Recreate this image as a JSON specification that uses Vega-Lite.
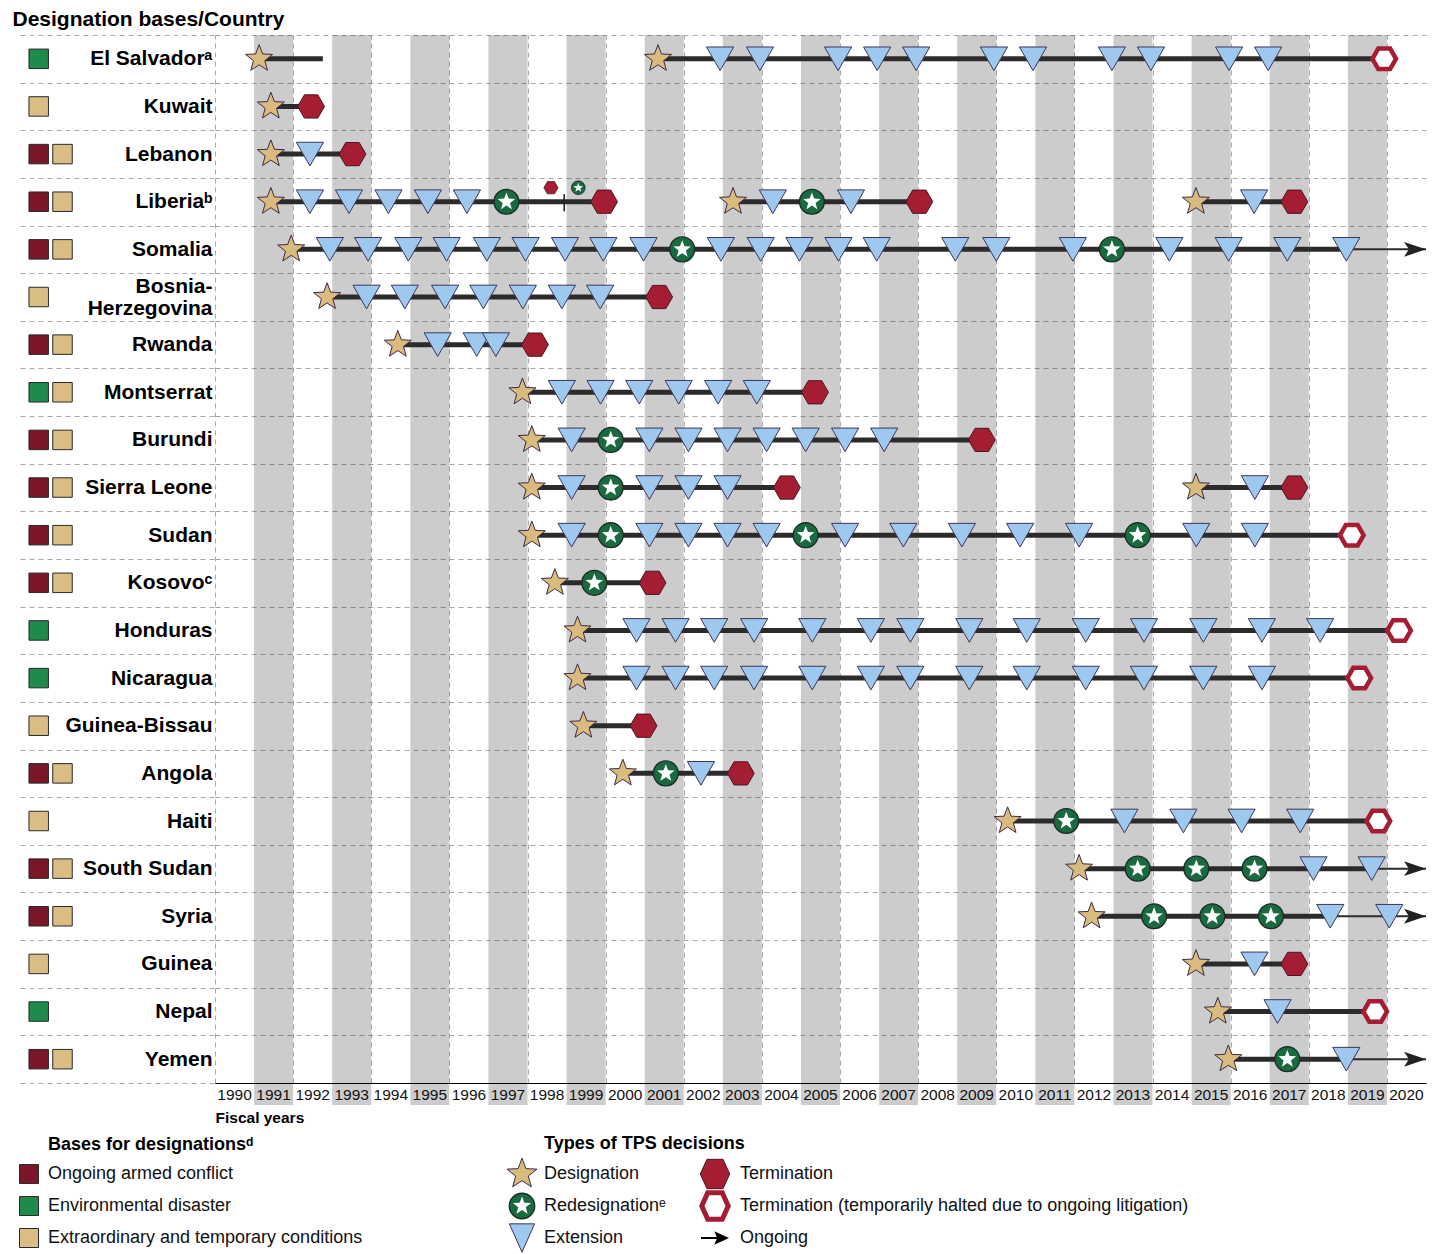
{
  "$schema": "https://vega.github.io/schema/vega-lite/v6.json",
  "padding": {"left": 12, "top": 9, "right": 8, "bottom": 2},
  "background": "white",
  "config": {"view": {"stroke": null}, "font": "Liberation Sans", "title": {"color": "#000"}},
  "title": {"text": "Designation bases/Country", "anchor": "start", "fontSize": 21, "fontWeight": "bold", "dx": -5, "offset": -6},
  "datasets": {
    "bases": [
      {"country": "El Salvador", "basis": "environmental"},
      {"country": "Kuwait", "basis": "extraordinary"},
      {"country": "Lebanon", "basis": "conflict"}, {"country": "Lebanon", "basis": "extraordinary"},
      {"country": "Liberia", "basis": "conflict"}, {"country": "Liberia", "basis": "extraordinary"},
      {"country": "Somalia", "basis": "conflict"}, {"country": "Somalia", "basis": "extraordinary"},
      {"country": "Bosnia-Herzegovina", "basis": "extraordinary"},
      {"country": "Rwanda", "basis": "conflict"}, {"country": "Rwanda", "basis": "extraordinary"},
      {"country": "Montserrat", "basis": "environmental"}, {"country": "Montserrat", "basis": "extraordinary"},
      {"country": "Burundi", "basis": "conflict"}, {"country": "Burundi", "basis": "extraordinary"},
      {"country": "Sierra Leone", "basis": "conflict"}, {"country": "Sierra Leone", "basis": "extraordinary"},
      {"country": "Sudan", "basis": "conflict"}, {"country": "Sudan", "basis": "extraordinary"},
      {"country": "Kosovo", "basis": "conflict"}, {"country": "Kosovo", "basis": "extraordinary"},
      {"country": "Honduras", "basis": "environmental"},
      {"country": "Nicaragua", "basis": "environmental"},
      {"country": "Guinea-Bissau", "basis": "extraordinary"},
      {"country": "Angola", "basis": "conflict"}, {"country": "Angola", "basis": "extraordinary"},
      {"country": "Haiti", "basis": "extraordinary"},
      {"country": "South Sudan", "basis": "conflict"}, {"country": "South Sudan", "basis": "extraordinary"},
      {"country": "Syria", "basis": "conflict"}, {"country": "Syria", "basis": "extraordinary"},
      {"country": "Guinea", "basis": "extraordinary"},
      {"country": "Nepal", "basis": "environmental"},
      {"country": "Yemen", "basis": "conflict"}, {"country": "Yemen", "basis": "extraordinary"}
    ],
    "years": [
      {"year": 1990}, {"year": 1991}, {"year": 1992}, {"year": 1993}, {"year": 1994}, {"year": 1995}, {"year": 1996}, {"year": 1997},
      {"year": 1998}, {"year": 1999}, {"year": 2000}, {"year": 2001}, {"year": 2002}, {"year": 2003}, {"year": 2004}, {"year": 2005},
      {"year": 2006}, {"year": 2007}, {"year": 2008}, {"year": 2009}, {"year": 2010}, {"year": 2011}, {"year": 2012}, {"year": 2013},
      {"year": 2014}, {"year": 2015}, {"year": 2016}, {"year": 2017}, {"year": 2018}, {"year": 2019}, {"year": 2020}
    ],
    "shadedYears": [
      {"year": 1991, "end": 1992}, {"year": 1993, "end": 1994}, {"year": 1995, "end": 1996}, {"year": 1997, "end": 1998},
      {"year": 1999, "end": 2000}, {"year": 2001, "end": 2002}, {"year": 2003, "end": 2004}, {"year": 2005, "end": 2006},
      {"year": 2007, "end": 2008}, {"year": 2009, "end": 2010}, {"year": 2011, "end": 2012}, {"year": 2013, "end": 2014},
      {"year": 2015, "end": 2016}, {"year": 2017, "end": 2018}, {"year": 2019, "end": 2020}
    ],
    "segments": [
      {"country": "El Salvador", "start": 1991.13, "end": 1992.76},
      {"country": "El Salvador", "start": 2001.34, "end": 2019.93},
      {"country": "Kuwait", "start": 1991.43, "end": 1992.46},
      {"country": "Lebanon", "start": 1991.43, "end": 1993.52},
      {"country": "Liberia", "start": 1991.43, "end": 1999.96},
      {"country": "Liberia", "start": 2003.26, "end": 2008.03},
      {"country": "Liberia", "start": 2015.11, "end": 2017.63},
      {"country": "Somalia", "start": 1991.95, "end": 2018.96},
      {"country": "Bosnia-Herzegovina", "start": 1992.87, "end": 2001.37},
      {"country": "Rwanda", "start": 1994.68, "end": 1998.19},
      {"country": "Montserrat", "start": 1997.87, "end": 2005.36},
      {"country": "Burundi", "start": 1998.11, "end": 2009.63},
      {"country": "Sierra Leone", "start": 1998.11, "end": 2004.64},
      {"country": "Sierra Leone", "start": 2015.11, "end": 2017.63},
      {"country": "Sudan", "start": 1998.11, "end": 2019.10},
      {"country": "Kosovo", "start": 1998.70, "end": 2001.20},
      {"country": "Honduras", "start": 1999.28, "end": 2020.31},
      {"country": "Nicaragua", "start": 1999.28, "end": 2019.29},
      {"country": "Guinea-Bissau", "start": 1999.43, "end": 2000.97},
      {"country": "Angola", "start": 2000.44, "end": 2003.46},
      {"country": "Haiti", "start": 2010.29, "end": 2019.78},
      {"country": "South Sudan", "start": 2012.12, "end": 2019.61},
      {"country": "Syria", "start": 2012.44, "end": 2018.55},
      {"country": "Guinea", "start": 2015.11, "end": 2017.63},
      {"country": "Nepal", "start": 2015.67, "end": 2019.70},
      {"country": "Yemen", "start": 2015.94, "end": 2018.96}
    ],
    "ongoing": [
      {"country": "Somalia", "from": 2018.96, "to": 2021},
      {"country": "South Sudan", "from": 2019.61, "to": 2021},
      {"country": "Syria", "from": 2018.55, "to": 2021},
      {"country": "Yemen", "from": 2018.96, "to": 2021}
    ],
    "liberiaNote": [
      {"country": "Liberia", "year": 1998.60, "decision": "Termination"},
      {"country": "Liberia", "year": 1999.30, "decision": "Redesignation"}
    ],
    "liberiaSplit": [{"country": "Liberia", "year": 1998.94}],
    "events": [
      {"country": "El Salvador", "year": 1991.13, "decision": "Designation"},
      {"country": "El Salvador", "year": 2001.34, "decision": "Designation"},
      {"country": "El Salvador", "year": 2002.93, "decision": "Extension"},
      {"country": "El Salvador", "year": 2003.95, "decision": "Extension"},
      {"country": "El Salvador", "year": 2005.95, "decision": "Extension"},
      {"country": "El Salvador", "year": 2006.95, "decision": "Extension"},
      {"country": "El Salvador", "year": 2007.95, "decision": "Extension"},
      {"country": "El Salvador", "year": 2009.94, "decision": "Extension"},
      {"country": "El Salvador", "year": 2010.94, "decision": "Extension"},
      {"country": "El Salvador", "year": 2012.96, "decision": "Extension"},
      {"country": "El Salvador", "year": 2013.96, "decision": "Extension"},
      {"country": "El Salvador", "year": 2015.96, "decision": "Extension"},
      {"country": "El Salvador", "year": 2016.96, "decision": "Extension"},
      {"country": "El Salvador", "year": 2019.93, "decision": "Halted"},
      {"country": "Kuwait", "year": 1991.43, "decision": "Designation"},
      {"country": "Kuwait", "year": 1992.46, "decision": "Termination"},
      {"country": "Lebanon", "year": 1991.43, "decision": "Designation"},
      {"country": "Lebanon", "year": 1992.43, "decision": "Extension"},
      {"country": "Lebanon", "year": 1993.52, "decision": "Termination"},
      {"country": "Liberia", "year": 1991.43, "decision": "Designation"},
      {"country": "Liberia", "year": 1992.43, "decision": "Extension"},
      {"country": "Liberia", "year": 1993.43, "decision": "Extension"},
      {"country": "Liberia", "year": 1994.44, "decision": "Extension"},
      {"country": "Liberia", "year": 1995.45, "decision": "Extension"},
      {"country": "Liberia", "year": 1996.45, "decision": "Extension"},
      {"country": "Liberia", "year": 1997.46, "decision": "Redesignation"},
      {"country": "Liberia", "year": 1999.96, "decision": "Termination"},
      {"country": "Liberia", "year": 2003.26, "decision": "Designation"},
      {"country": "Liberia", "year": 2004.28, "decision": "Extension"},
      {"country": "Liberia", "year": 2005.28, "decision": "Redesignation"},
      {"country": "Liberia", "year": 2006.28, "decision": "Extension"},
      {"country": "Liberia", "year": 2008.03, "decision": "Termination"},
      {"country": "Liberia", "year": 2015.11, "decision": "Designation"},
      {"country": "Liberia", "year": 2016.60, "decision": "Extension"},
      {"country": "Liberia", "year": 2017.63, "decision": "Termination"},
      {"country": "Somalia", "year": 1991.95, "decision": "Designation"},
      {"country": "Somalia", "year": 1992.94, "decision": "Extension"},
      {"country": "Somalia", "year": 1993.92, "decision": "Extension"},
      {"country": "Somalia", "year": 1994.95, "decision": "Extension"},
      {"country": "Somalia", "year": 1995.93, "decision": "Extension"},
      {"country": "Somalia", "year": 1996.96, "decision": "Extension"},
      {"country": "Somalia", "year": 1997.95, "decision": "Extension"},
      {"country": "Somalia", "year": 1998.96, "decision": "Extension"},
      {"country": "Somalia", "year": 1999.94, "decision": "Extension"},
      {"country": "Somalia", "year": 2000.97, "decision": "Extension"},
      {"country": "Somalia", "year": 2001.96, "decision": "Redesignation"},
      {"country": "Somalia", "year": 2002.95, "decision": "Extension"},
      {"country": "Somalia", "year": 2003.97, "decision": "Extension"},
      {"country": "Somalia", "year": 2004.96, "decision": "Extension"},
      {"country": "Somalia", "year": 2005.96, "decision": "Extension"},
      {"country": "Somalia", "year": 2006.94, "decision": "Extension"},
      {"country": "Somalia", "year": 2008.95, "decision": "Extension"},
      {"country": "Somalia", "year": 2010.00, "decision": "Extension"},
      {"country": "Somalia", "year": 2011.96, "decision": "Extension"},
      {"country": "Somalia", "year": 2012.96, "decision": "Redesignation"},
      {"country": "Somalia", "year": 2014.43, "decision": "Extension"},
      {"country": "Somalia", "year": 2015.95, "decision": "Extension"},
      {"country": "Somalia", "year": 2017.45, "decision": "Extension"},
      {"country": "Somalia", "year": 2018.96, "decision": "Extension"},
      {"country": "Bosnia-Herzegovina", "year": 1992.87, "decision": "Designation"},
      {"country": "Bosnia-Herzegovina", "year": 1993.88, "decision": "Extension"},
      {"country": "Bosnia-Herzegovina", "year": 1994.86, "decision": "Extension"},
      {"country": "Bosnia-Herzegovina", "year": 1995.89, "decision": "Extension"},
      {"country": "Bosnia-Herzegovina", "year": 1996.87, "decision": "Extension"},
      {"country": "Bosnia-Herzegovina", "year": 1997.88, "decision": "Extension"},
      {"country": "Bosnia-Herzegovina", "year": 1998.88, "decision": "Extension"},
      {"country": "Bosnia-Herzegovina", "year": 1999.86, "decision": "Extension"},
      {"country": "Bosnia-Herzegovina", "year": 2001.37, "decision": "Termination"},
      {"country": "Rwanda", "year": 1994.68, "decision": "Designation"},
      {"country": "Rwanda", "year": 1995.70, "decision": "Extension"},
      {"country": "Rwanda", "year": 1996.70, "decision": "Extension"},
      {"country": "Rwanda", "year": 1997.19, "decision": "Extension"},
      {"country": "Rwanda", "year": 1998.19, "decision": "Termination"},
      {"country": "Montserrat", "year": 1997.87, "decision": "Designation"},
      {"country": "Montserrat", "year": 1998.88, "decision": "Extension"},
      {"country": "Montserrat", "year": 1999.87, "decision": "Extension"},
      {"country": "Montserrat", "year": 2000.86, "decision": "Extension"},
      {"country": "Montserrat", "year": 2001.87, "decision": "Extension"},
      {"country": "Montserrat", "year": 2002.88, "decision": "Extension"},
      {"country": "Montserrat", "year": 2003.87, "decision": "Extension"},
      {"country": "Montserrat", "year": 2005.36, "decision": "Termination"},
      {"country": "Burundi", "year": 1998.11, "decision": "Designation"},
      {"country": "Burundi", "year": 1999.13, "decision": "Extension"},
      {"country": "Burundi", "year": 2000.13, "decision": "Redesignation"},
      {"country": "Burundi", "year": 2001.12, "decision": "Extension"},
      {"country": "Burundi", "year": 2002.12, "decision": "Extension"},
      {"country": "Burundi", "year": 2003.12, "decision": "Extension"},
      {"country": "Burundi", "year": 2004.12, "decision": "Extension"},
      {"country": "Burundi", "year": 2005.12, "decision": "Extension"},
      {"country": "Burundi", "year": 2006.13, "decision": "Extension"},
      {"country": "Burundi", "year": 2007.13, "decision": "Extension"},
      {"country": "Burundi", "year": 2009.63, "decision": "Termination"},
      {"country": "Sierra Leone", "year": 1998.11, "decision": "Designation"},
      {"country": "Sierra Leone", "year": 1999.13, "decision": "Extension"},
      {"country": "Sierra Leone", "year": 2000.13, "decision": "Redesignation"},
      {"country": "Sierra Leone", "year": 2001.12, "decision": "Extension"},
      {"country": "Sierra Leone", "year": 2002.12, "decision": "Extension"},
      {"country": "Sierra Leone", "year": 2003.12, "decision": "Extension"},
      {"country": "Sierra Leone", "year": 2004.64, "decision": "Termination"},
      {"country": "Sierra Leone", "year": 2015.11, "decision": "Designation"},
      {"country": "Sierra Leone", "year": 2016.62, "decision": "Extension"},
      {"country": "Sierra Leone", "year": 2017.63, "decision": "Termination"},
      {"country": "Sudan", "year": 1998.11, "decision": "Designation"},
      {"country": "Sudan", "year": 1999.13, "decision": "Extension"},
      {"country": "Sudan", "year": 2000.13, "decision": "Redesignation"},
      {"country": "Sudan", "year": 2001.12, "decision": "Extension"},
      {"country": "Sudan", "year": 2002.12, "decision": "Extension"},
      {"country": "Sudan", "year": 2003.12, "decision": "Extension"},
      {"country": "Sudan", "year": 2004.12, "decision": "Extension"},
      {"country": "Sudan", "year": 2005.12, "decision": "Redesignation"},
      {"country": "Sudan", "year": 2006.13, "decision": "Extension"},
      {"country": "Sudan", "year": 2007.62, "decision": "Extension"},
      {"country": "Sudan", "year": 2009.12, "decision": "Extension"},
      {"country": "Sudan", "year": 2010.61, "decision": "Extension"},
      {"country": "Sudan", "year": 2012.12, "decision": "Extension"},
      {"country": "Sudan", "year": 2013.62, "decision": "Redesignation"},
      {"country": "Sudan", "year": 2015.12, "decision": "Extension"},
      {"country": "Sudan", "year": 2016.62, "decision": "Extension"},
      {"country": "Sudan", "year": 2019.10, "decision": "Halted"},
      {"country": "Kosovo", "year": 1998.70, "decision": "Designation"},
      {"country": "Kosovo", "year": 1999.71, "decision": "Redesignation"},
      {"country": "Kosovo", "year": 2001.20, "decision": "Termination"},
      {"country": "Honduras", "year": 1999.28, "decision": "Designation"},
      {"country": "Honduras", "year": 2000.79, "decision": "Extension"},
      {"country": "Honduras", "year": 2001.79, "decision": "Extension"},
      {"country": "Honduras", "year": 2002.78, "decision": "Extension"},
      {"country": "Honduras", "year": 2003.80, "decision": "Extension"},
      {"country": "Honduras", "year": 2005.29, "decision": "Extension"},
      {"country": "Honduras", "year": 2006.79, "decision": "Extension"},
      {"country": "Honduras", "year": 2007.80, "decision": "Extension"},
      {"country": "Honduras", "year": 2009.31, "decision": "Extension"},
      {"country": "Honduras", "year": 2010.78, "decision": "Extension"},
      {"country": "Honduras", "year": 2012.29, "decision": "Extension"},
      {"country": "Honduras", "year": 2013.78, "decision": "Extension"},
      {"country": "Honduras", "year": 2015.30, "decision": "Extension"},
      {"country": "Honduras", "year": 2016.80, "decision": "Extension"},
      {"country": "Honduras", "year": 2018.29, "decision": "Extension"},
      {"country": "Honduras", "year": 2020.31, "decision": "Halted"},
      {"country": "Nicaragua", "year": 1999.28, "decision": "Designation"},
      {"country": "Nicaragua", "year": 2000.79, "decision": "Extension"},
      {"country": "Nicaragua", "year": 2001.79, "decision": "Extension"},
      {"country": "Nicaragua", "year": 2002.78, "decision": "Extension"},
      {"country": "Nicaragua", "year": 2003.80, "decision": "Extension"},
      {"country": "Nicaragua", "year": 2005.29, "decision": "Extension"},
      {"country": "Nicaragua", "year": 2006.79, "decision": "Extension"},
      {"country": "Nicaragua", "year": 2007.80, "decision": "Extension"},
      {"country": "Nicaragua", "year": 2009.31, "decision": "Extension"},
      {"country": "Nicaragua", "year": 2010.78, "decision": "Extension"},
      {"country": "Nicaragua", "year": 2012.29, "decision": "Extension"},
      {"country": "Nicaragua", "year": 2013.78, "decision": "Extension"},
      {"country": "Nicaragua", "year": 2015.30, "decision": "Extension"},
      {"country": "Nicaragua", "year": 2016.80, "decision": "Extension"},
      {"country": "Nicaragua", "year": 2019.29, "decision": "Halted"},
      {"country": "Guinea-Bissau", "year": 1999.43, "decision": "Designation"},
      {"country": "Guinea-Bissau", "year": 2000.97, "decision": "Termination"},
      {"country": "Angola", "year": 2000.44, "decision": "Designation"},
      {"country": "Angola", "year": 2001.54, "decision": "Redesignation"},
      {"country": "Angola", "year": 2002.44, "decision": "Extension"},
      {"country": "Angola", "year": 2003.46, "decision": "Termination"},
      {"country": "Haiti", "year": 2010.29, "decision": "Designation"},
      {"country": "Haiti", "year": 2011.79, "decision": "Redesignation"},
      {"country": "Haiti", "year": 2013.28, "decision": "Extension"},
      {"country": "Haiti", "year": 2014.79, "decision": "Extension"},
      {"country": "Haiti", "year": 2016.28, "decision": "Extension"},
      {"country": "Haiti", "year": 2017.78, "decision": "Extension"},
      {"country": "Haiti", "year": 2019.78, "decision": "Halted"},
      {"country": "South Sudan", "year": 2012.12, "decision": "Designation"},
      {"country": "South Sudan", "year": 2013.62, "decision": "Redesignation"},
      {"country": "South Sudan", "year": 2015.12, "decision": "Redesignation"},
      {"country": "South Sudan", "year": 2016.61, "decision": "Redesignation"},
      {"country": "South Sudan", "year": 2018.12, "decision": "Extension"},
      {"country": "South Sudan", "year": 2019.61, "decision": "Extension"},
      {"country": "Syria", "year": 2012.44, "decision": "Designation"},
      {"country": "Syria", "year": 2014.04, "decision": "Redesignation"},
      {"country": "Syria", "year": 2015.53, "decision": "Redesignation"},
      {"country": "Syria", "year": 2017.03, "decision": "Redesignation"},
      {"country": "Syria", "year": 2018.55, "decision": "Extension"},
      {"country": "Syria", "year": 2020.06, "decision": "Extension"},
      {"country": "Guinea", "year": 2015.11, "decision": "Designation"},
      {"country": "Guinea", "year": 2016.61, "decision": "Extension"},
      {"country": "Guinea", "year": 2017.63, "decision": "Termination"},
      {"country": "Nepal", "year": 2015.67, "decision": "Designation"},
      {"country": "Nepal", "year": 2017.20, "decision": "Extension"},
      {"country": "Nepal", "year": 2019.70, "decision": "Halted"},
      {"country": "Yemen", "year": 2015.94, "decision": "Designation"},
      {"country": "Yemen", "year": 2017.45, "decision": "Redesignation"},
      {"country": "Yemen", "year": 2018.96, "decision": "Extension"}
    ],
    "legendBases": [
      {"basis": "conflict", "label": "Ongoing armed conflict"},
      {"basis": "environmental", "label": "Environmental disaster"},
      {"basis": "extraordinary", "label": "Extraordinary and temporary conditions"}
    ],
    "legendTypes": [
      {"group": "grant", "decision": "Designation", "label": "Designation"},
      {"group": "grant", "decision": "Redesignation", "label": "Redesignation\u1d49"},
      {"group": "grant", "decision": "Extension", "label": "Extension"},
      {"group": "end", "decision": "Termination", "label": "Termination"},
      {"group": "end", "decision": "Halted", "label": "Termination (temporarily halted due to ongoing litigation)"},
      {"group": "end", "decision": "Ongoing", "label": "Ongoing"}
    ]
  },
  "spacing": 9,
  "resolve": {"scale": {"x": "independent", "y": "independent"}},
  "vconcat": [
    {
      "hconcat": [
        {
          "width": 195,
          "height": 1048,
          "data": {"name": "bases"},
          "transform": [{"window": [{"op": "row_number", "as": "slot"}], "groupby": ["country"], "sort": [{"field": "basis", "order": "ascending"}]}],
          "mark": {"type": "square", "size": 380, "stroke": "#2a2a2a", "strokeWidth": 1, "opacity": 1},
          "encoding": {
            "y": {"field": "country", "type": "nominal",
              "scale": {"type": "band", "paddingInner": 0, "paddingOuter": 0, "domain": ["El Salvador", "Kuwait", "Lebanon", "Liberia", "Somalia", "Bosnia-Herzegovina", "Rwanda", "Montserrat", "Burundi", "Sierra Leone", "Sudan", "Kosovo", "Honduras", "Nicaragua", "Guinea-Bissau", "Angola", "Haiti", "South Sudan", "Syria", "Guinea", "Nepal", "Yemen"]},
              "axis": {"title": null, "labels": false, "ticks": false, "domain": false, "grid": true, "gridColor": "#a9a9a9", "gridDash": [5, 4], "tickBand": "extent"}},
            "x": {"field": "slot", "type": "quantitative", "scale": {"domain": [0.2143, 8.407], "nice": false, "zero": false}, "axis": null},
            "fill": {"field": "basis", "type": "nominal", "scale": {"domain": ["conflict", "environmental", "extraordinary"], "range": ["#7a1628", "#1e8a4c", "#d9bd84"]}, "legend": null}
          }
        },
        {
          "width": 1211,
          "height": 1048,
          "layer": [
            {
              "data": {"name": "shadedYears"},
              "mark": {"type": "rect", "fill": "#000000", "opacity": 0.2, "y2Offset": 22},
              "encoding": {
                "x": {"field": "year", "type": "quantitative", "scale": {"domain": [1990, 2021], "nice": false, "zero": false},
                  "axis": {"values": [1990, 1991, 1992, 1993, 1994, 1995, 1996, 1997, 1998, 1999, 2000, 2001, 2002, 2003, 2004, 2005, 2006, 2007, 2008, 2009, 2010, 2011, 2012, 2013, 2014, 2015, 2016, 2017, 2018, 2019, 2020, 2021],
                    "labels": false, "ticks": false, "tickSize": 0, "domain": true, "domainColor": "#000", "domainWidth": 1.2,
                    "grid": true, "gridColor": "#a9a9a9", "gridDash": [5, 4], "gridWidth": 1,
                    "title": "Fiscal years", "titleAnchor": "start", "titleAlign": "left", "titleFontSize": 15.5, "titleFontWeight": "bold", "titlePadding": 27, "titleColor": "#000"}},
                "x2": {"field": "end"},
                "y": {"value": 0},
                "y2": {"value": "height"}
              }
            },
            {
              "data": {"name": "years"},
              "mark": {"type": "text", "align": "center", "baseline": "middle", "dx": 19.5, "yOffset": 11.5, "fontSize": 15.5, "color": "#111"},
              "encoding": {
                "x": {"field": "year", "type": "quantitative"},
                "y": {"value": "height"},
                "text": {"field": "year", "type": "quantitative", "format": "d"}
              }
            },
            {
              "data": {"name": "segments"},
              "mark": {"type": "rule", "strokeWidth": 5, "color": "#2b2b2b"},
              "encoding": {
                "x": {"field": "start", "type": "quantitative"},
                "x2": {"field": "end"},
                "y": {"field": "country", "type": "nominal",
                  "scale": {"type": "band", "paddingInner": 0, "paddingOuter": 0, "domain": ["El Salvador", "Kuwait", "Lebanon", "Liberia", "Somalia", "Bosnia-Herzegovina", "Rwanda", "Montserrat", "Burundi", "Sierra Leone", "Sudan", "Kosovo", "Honduras", "Nicaragua", "Guinea-Bissau", "Angola", "Haiti", "South Sudan", "Syria", "Guinea", "Nepal", "Yemen"]},
                  "axis": {"title": null, "domain": false, "ticks": false, "labelFontSize": 21, "labelFontWeight": "bold", "labelColor": "#000", "labelPadding": 3, "labelLineHeight": 22, "labelLimit": 0,
                    "labelOffset": {"condition": {"test": "datum.value == 'Bosnia-Herzegovina'", "value": -11}, "value": 0},
                    "grid": true, "gridColor": "#a9a9a9", "gridDash": [5, 4], "tickBand": "extent",
                    "labelExpr": "datum.value == 'El Salvador' ? 'El Salvador\u1d43' : datum.value == 'Liberia' ? 'Liberia\u1d47' : datum.value == 'Kosovo' ? 'Kosovo\u1d9c' : datum.value == 'Bosnia-Herzegovina' ? ['Bosnia-', 'Herzegovina'] : datum.label"}}
              }
            },
            {
              "data": {"name": "ongoing"},
              "mark": {"type": "rule", "strokeWidth": 2, "color": "#2b2b2b"},
              "encoding": {
                "x": {"field": "from", "type": "quantitative"},
                "x2": {"field": "to"},
                "y": {"field": "country", "type": "nominal"}
              }
            },
            {
              "data": {"name": "ongoing"},
              "mark": {"type": "point", "shape": "M 0 0 L -2 -0.68 L -1.55 0 L -2 0.68 Z", "size": 484, "filled": true, "fill": "#222222", "strokeWidth": 0, "opacity": 1},
              "encoding": {
                "x": {"field": "to", "type": "quantitative"},
                "y": {"field": "country", "type": "nominal"}
              }
            },
            {
              "data": {"name": "liberiaSplit"},
              "mark": {"type": "tick", "size": 17, "thickness": 1.6, "color": "#222222", "yOffset": 1, "opacity": 1},
              "encoding": {"x": {"field": "year", "type": "quantitative"}, "y": {"field": "country", "type": "nominal"}}
            },
            {
              "data": {"name": "events"},
              "transform": [{"filter": "datum.decision == 'Designation'"}],
              "mark": {"type": "point", "shape": "M 0 -1 L 0.2469 -0.3398 L 0.9511 -0.309 L 0.3995 0.1298 L 0.5878 0.809 L 0 0.42 L -0.5878 0.809 L -0.3995 0.1298 L -0.9511 -0.309 L -0.2469 -0.3398 Z", "size": 810, "filled": true, "fill": "#d8bb7d", "stroke": "#3d2a48", "strokeWidth": 1, "opacity": 1},
              "encoding": {"x": {"field": "year", "type": "quantitative"}, "y": {"field": "country", "type": "nominal"}}
            },
            {
              "data": {"name": "events"},
              "transform": [{"filter": "datum.decision == 'Redesignation'"}],
              "mark": {"type": "point", "shape": "circle", "size": 620, "filled": true, "fill": "#1a6a40", "stroke": "#1b2b22", "strokeWidth": 1.3, "opacity": 1},
              "encoding": {"x": {"field": "year", "type": "quantitative"}, "y": {"field": "country", "type": "nominal"}}
            },
            {
              "data": {"name": "events"},
              "transform": [{"filter": "datum.decision == 'Redesignation'"}],
              "mark": {"type": "point", "shape": "M 0 -1 L 0.2469 -0.3398 L 0.9511 -0.309 L 0.3995 0.1298 L 0.5878 0.809 L 0 0.42 L -0.5878 0.809 L -0.3995 0.1298 L -0.9511 -0.309 L -0.2469 -0.3398 Z", "size": 340, "filled": true, "fill": "#ffffff", "strokeWidth": 0, "opacity": 1},
              "encoding": {"x": {"field": "year", "type": "quantitative"}, "y": {"field": "country", "type": "nominal"}}
            },
            {
              "data": {"name": "events"},
              "transform": [{"filter": "datum.decision == 'Extension'"}],
              "mark": {"type": "point", "shape": "M -1 -0.87 L 1 -0.87 L 0 0.87 Z", "size": 740, "filled": true, "fill": "#9fc8ef", "stroke": "#3c3656", "strokeWidth": 1, "opacity": 1},
              "encoding": {"x": {"field": "year", "type": "quantitative"}, "y": {"field": "country", "type": "nominal"}}
            },
            {
              "data": {"name": "events"},
              "transform": [{"filter": "datum.decision == 'Termination'"}],
              "mark": {"type": "point", "shape": "M -1 0 L -0.5 -0.866 L 0.5 -0.866 L 1 0 L 0.5 0.866 L -0.5 0.866 Z", "size": 720, "filled": true, "fill": "#a51d33", "stroke": "#4b1522", "strokeWidth": 1, "opacity": 1},
              "encoding": {"x": {"field": "year", "type": "quantitative"}, "y": {"field": "country", "type": "nominal"}}
            },
            {
              "data": {"name": "events"},
              "transform": [{"filter": "datum.decision == 'Halted'"}],
              "mark": {"type": "point", "shape": "M -1 0 L -0.5 -0.866 L 0.5 -0.866 L 1 0 L 0.5 0.866 L -0.5 0.866 Z", "size": 560, "filled": true, "fill": "#ffffff", "stroke": "#a51d33", "strokeWidth": 4.5, "opacity": 1},
              "encoding": {"x": {"field": "year", "type": "quantitative"}, "y": {"field": "country", "type": "nominal"}}
            },
            {
              "data": {"name": "liberiaNote"},
              "transform": [{"filter": "datum.decision == 'Termination'"}],
              "mark": {"type": "point", "shape": "M -1 0 L -0.5 -0.866 L 0.5 -0.866 L 1 0 L 0.5 0.866 L -0.5 0.866 Z", "size": 200, "filled": true, "fill": "#a51d33", "stroke": "#4b1522", "strokeWidth": 0.8, "opacity": 1, "yOffset": -14},
              "encoding": {"x": {"field": "year", "type": "quantitative"}, "y": {"field": "country", "type": "nominal"}}
            },
            {
              "data": {"name": "liberiaNote"},
              "transform": [{"filter": "datum.decision == 'Redesignation'"}],
              "mark": {"type": "point", "shape": "circle", "size": 190, "filled": true, "fill": "#1a6a40", "stroke": "#1b2b22", "strokeWidth": 0.8, "opacity": 1, "yOffset": -14},
              "encoding": {"x": {"field": "year", "type": "quantitative"}, "y": {"field": "country", "type": "nominal"}}
            },
            {
              "data": {"name": "liberiaNote"},
              "transform": [{"filter": "datum.decision == 'Redesignation'"}],
              "mark": {"type": "point", "shape": "M 0 -1 L 0.2469 -0.3398 L 0.9511 -0.309 L 0.3995 0.1298 L 0.5878 0.809 L 0 0.42 L -0.5878 0.809 L -0.3995 0.1298 L -0.9511 -0.309 L -0.2469 -0.3398 Z", "size": 100, "filled": true, "fill": "#ffffff", "strokeWidth": 0, "opacity": 1, "yOffset": -14},
              "encoding": {"x": {"field": "year", "type": "quantitative"}, "y": {"field": "country", "type": "nominal"}}
            }
          ]
        }
      ],
      "spacing": 0,
      "bounds": "flush",
      "resolve": {"scale": {"x": "independent", "y": "independent"}}
    },
    {
      "hconcat": [
        {
          "width": 18,
          "height": 64,
          "title": {"text": "Bases for designations\u1d48", "anchor": "start", "frame": "group", "fontSize": 18, "fontWeight": "bold", "dx": 28, "offset": 9},
          "data": {"name": "legendBases"},
          "transform": [{"window": [{"op": "row_number", "as": "rank"}]}],
          "encoding": {
            "y": {"field": "rank", "type": "ordinal", "scale": {"type": "point", "domain": [1, 2, 3], "padding": 0}, "axis": null}
          },
          "layer": [
            {
              "mark": {"type": "square", "size": 361, "stroke": "#2a2a2a", "strokeWidth": 1, "opacity": 1},
              "encoding": {"fill": {"field": "basis", "type": "nominal", "scale": {"domain": ["conflict", "environmental", "extraordinary"], "range": ["#7a1628", "#1e8a4c", "#d9bd84"]}, "legend": null}}
            },
            {
              "mark": {"type": "text", "align": "left", "baseline": "middle", "dx": 19, "fontSize": 18, "color": "#111"},
              "encoding": {"text": {"field": "label"}}
            }
          ]
        },
        {
          "width": 193,
          "height": 64,
          "title": {"text": "Types of TPS decisions", "anchor": "start", "frame": "group", "fontSize": 18, "fontWeight": "bold", "dx": 22, "offset": 3},
          "data": {"name": "legendTypes"},
          "transform": [{"window": [{"op": "row_number", "as": "rank"}], "groupby": ["group"]}],
          "encoding": {
            "x": {"field": "group", "type": "nominal", "scale": {"type": "point", "domain": ["grant", "end"], "padding": 0}, "axis": null},
            "y": {"field": "rank", "type": "ordinal", "scale": {"type": "point", "domain": [1, 2, 3], "padding": 0}, "axis": null}
          },
          "layer": [
            {
              "transform": [{"filter": "datum.decision == 'Designation'"}],
              "mark": {"type": "point", "shape": "M 0 -1 L 0.2469 -0.3398 L 0.9511 -0.309 L 0.3995 0.1298 L 0.5878 0.809 L 0 0.42 L -0.5878 0.809 L -0.3995 0.1298 L -0.9511 -0.309 L -0.2469 -0.3398 Z", "size": 1000, "filled": true, "fill": "#d8bb7d", "stroke": "#3d2a48", "strokeWidth": 1, "opacity": 1}
            },
            {
              "transform": [{"filter": "datum.decision == 'Redesignation'"}],
              "mark": {"type": "point", "shape": "circle", "size": 650, "filled": true, "fill": "#1a6a40", "stroke": "#1b2b22", "strokeWidth": 1.3, "opacity": 1}
            },
            {
              "transform": [{"filter": "datum.decision == 'Redesignation'"}],
              "mark": {"type": "point", "shape": "M 0 -1 L 0.2469 -0.3398 L 0.9511 -0.309 L 0.3995 0.1298 L 0.5878 0.809 L 0 0.42 L -0.5878 0.809 L -0.3995 0.1298 L -0.9511 -0.309 L -0.2469 -0.3398 Z", "size": 360, "filled": true, "fill": "#ffffff", "strokeWidth": 0, "opacity": 1}
            },
            {
              "transform": [{"filter": "datum.decision == 'Extension'"}],
              "mark": {"type": "point", "shape": "M -1 -1.12 L 1 -1.12 L 0 1.12 Z", "size": 640, "filled": true, "fill": "#9fc8ef", "stroke": "#3c3656", "strokeWidth": 1, "opacity": 1}
            },
            {
              "transform": [{"filter": "datum.decision == 'Termination'"}],
              "mark": {"type": "point", "shape": "M -1 0 L -0.55 -1 L 0.55 -1 L 1 0 L 0.55 1 L -0.55 1 Z", "size": 860, "filled": true, "fill": "#a51d33", "stroke": "#4b1522", "strokeWidth": 1, "opacity": 1}
            },
            {
              "transform": [{"filter": "datum.decision == 'Halted'"}],
              "mark": {"type": "point", "shape": "M -1 0 L -0.55 -1 L 0.55 -1 L 1 0 L 0.55 1 L -0.55 1 Z", "size": 700, "filled": true, "fill": "#ffffff", "stroke": "#a51d33", "strokeWidth": 5, "opacity": 1}
            },
            {
              "transform": [{"filter": "datum.decision == 'Ongoing'"}],
              "mark": {"type": "point", "shape": "M -1 -0.07 L 0.12 -0.07 L -0.05 -0.48 L 1 0 L -0.05 0.48 L 0.12 0.07 L -1 0.07 Z", "size": 784, "filled": true, "fill": "#000000", "strokeWidth": 0, "opacity": 1}
            },
            {
              "transform": [{"filter": "datum.group == 'grant'"}],
              "mark": {"type": "text", "align": "left", "baseline": "middle", "dx": 22, "fontSize": 18, "color": "#111"},
              "encoding": {"text": {"field": "label"}}
            },
            {
              "transform": [{"filter": "datum.group == 'end'"}],
              "mark": {"type": "text", "align": "left", "baseline": "middle", "dx": 25, "fontSize": 18, "color": "#111"},
              "encoding": {"text": {"field": "label"}}
            }
          ]
        }
      ],
      "spacing": 484,
      "bounds": "flush",
      "resolve": {"scale": {"x": "independent", "y": "independent"}}
    }
  ]
}
